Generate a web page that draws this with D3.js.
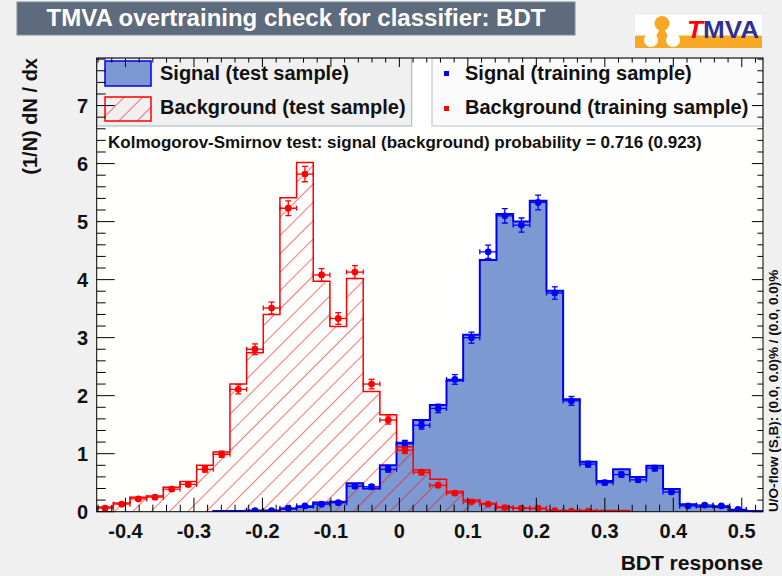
<!DOCTYPE html>
<html>
<head>
<meta charset="utf-8">
<script src="https://cdn.jsdelivr.net/npm/d3@7"></script>
<style>
  body { margin: 0; background: #f0f0f0; }
  svg { display: block; font-family: "Liberation Sans", Arial, sans-serif; font-weight: bold; }
</style>
</head>
<body>
<div id="graph-display"></div>
<script>
// binning of the BDT response
const X_MIN = -0.442;
const X_MAX = 0.531;
const N_BINS = 40;

// normalised histograms, one value per bin
const sigTest = [0, 0, 0, 0, 0, 0, 0, 0.01, 0.01, 0.02,
    0.02, 0.05, 0.08, 0.16, 0.17, 0.49, 0.40, 0.80, 1.19, 1.58,
    1.84, 2.26, 3.05, 4.34, 5.13, 5.00, 5.36, 3.81, 1.94, 0.86,
    0.53, 0.73, 0.60, 0.79, 0.39, 0.13, 0.09, 0.08, 0.02, 0.01];
const sigTrain = [0, 0, 0, 0, 0, 0, 0, 0, 0, 0.02,
    0.02, 0.06, 0.10, 0.13, 0.155, 0.44, 0.43, 0.73, 1.17, 1.49,
    1.78, 2.28, 3.00, 4.48, 5.10, 4.94, 5.33, 3.77, 1.91, 0.82,
    0.50, 0.64, 0.55, 0.75, 0.34, 0.10, 0.115, 0.10, 0.04, 0];
const bkgTest = [0.08, 0.15, 0.25, 0.27, 0.42, 0.52, 0.80, 1.03, 2.20, 2.74,
    3.40, 5.41, 6.02, 3.97, 3.19, 4.02, 2.07, 1.67, 1.12, 0.72,
    0.56, 0.35, 0.20, 0.14, 0.08, 0.06, 0.05, 0.02, 0.02, 0.02,
    0.02, 0.02, 0, 0, 0, 0, 0, 0, 0, 0];
const bkgTrain = [0.06, 0.13, 0.22, 0.25, 0.39, 0.47, 0.73, 0.99, 2.11, 2.80,
    3.51, 5.23, 5.82, 4.08, 3.33, 4.13, 2.20, 1.58, 1.06, 0.68,
    0.455, 0.32, 0.17, 0.13, 0.07, 0.06, 0.06, 0.02, 0.01, 0.01,
    0, 0, 0, 0, 0, 0, 0, 0, 0, 0];

const xTicks = [-0.4, -0.3, -0.2, -0.1, 0, 0.1, 0.2, 0.3, 0.4, 0.5];
const yTicks = [0, 1, 2, 3, 4, 5, 6, 7];

const titleText = 'TMVA overtraining check for classifier: BDT';
const ksText = 'Kolmogorov-Smirnov test: signal (background) probability = 0.716 (0.923)';
const flowText = 'U/O-flow (S,B): (0.0, 0.0)% / (0.0, 0.0)%';

const width = 782;
const height = 576;
const frame = { left: 96.7, right: 763, top: 58, bottom: 511.7 };

const SIG_LINE = '#0000ee';
const SIG_FILL = '#7d99d1';
const BKG_LINE = '#ff0000';

const x = d3.scaleLinear().domain([X_MIN, X_MAX]).range([frame.left, frame.right]);
const y = d3.scaleLinear().domain([0, 7.82]).range([frame.bottom, frame.top]);

const binWidth = (X_MAX - X_MIN) / N_BINS;
const edge = (i) => x(X_MIN + i * binWidth);

const svg = d3.select('#graph-display')
    .append('svg')
    .attr('width', width)
    .attr('height', height);

svg.append('rect')
    .attr('width', width)
    .attr('height', height)
    .attr('fill', '#f0f0f0');

const defs = svg.append('defs');
const hatch = defs.append('pattern')
    .attr('id', 'hatch')
    .attr('patternUnits', 'userSpaceOnUse')
    .attr('width', 13)
    .attr('height', 13)
    .attr('patternTransform', 'rotate(45)');
hatch.append('line')
    .attr('x1', 0).attr('y1', 0)
    .attr('x2', 0).attr('y2', 13)
    .attr('stroke', BKG_LINE)
    .attr('stroke-width', 1.1);

defs.append('clipPath')
    .attr('id', 'frame-clip')
    .append('rect')
    .attr('x', frame.left)
    .attr('y', frame.top)
    .attr('width', frame.right - frame.left)
    .attr('height', frame.bottom - frame.top);

// title box
svg.append('rect')
    .attr('x', 17).attr('y', 2)
    .attr('width', 558).attr('height', 33)
    .attr('fill', '#5d6b7d')
    .attr('stroke', '#7d8b9d')
    .attr('stroke-width', 1);
svg.append('text')
    .attr('x', 296).attr('y', 26)
    .attr('text-anchor', 'middle')
    .attr('fill', '#ffffff')
    .style('font-size', '24px')
    .text(titleText);

// TMVA logo
const logo = svg.append('g');
logo.append('rect').attr('x', 635).attr('y', 15).attr('width', 127).attr('height', 33).attr('fill', '#ffffff');
logo.append('rect').attr('x', 635).attr('y', 35.5).attr('width', 127).attr('height', 12.5).attr('fill', '#f9a825');
logo.append('path').attr('d', 'M655,38 L662,25 L669,38 Z').attr('fill', '#f9a825');
logo.append('circle').attr('cx', 662).attr('cy', 23.5).attr('r', 7.5).attr('fill', '#f9a825');
logo.append('circle').attr('cx', 651).attr('cy', 40).attr('r', 7).attr('fill', '#ffffff');
logo.append('circle').attr('cx', 673).attr('cy', 40).attr('r', 7).attr('fill', '#ffffff');
const logoText = logo.append('text')
    .attr('x', 687).attr('y', 38)
    .attr('textLength', 72)
    .attr('lengthAdjust', 'spacingAndGlyphs')
    .style('font-size', '23px');
logoText.append('tspan').attr('fill', '#ff0000').style('font-style', 'italic').text('T');
logoText.append('tspan').attr('fill', '#2e3192').text('MVA');

// plot frame
svg.append('rect')
    .attr('x', frame.left).attr('y', frame.top)
    .attr('width', frame.right - frame.left)
    .attr('height', frame.bottom - frame.top)
    .attr('fill', '#fffffd');

const stepPath = (values) => {
    let first = values.findIndex((v) => v > 0);
    let last = values.length - 1;
    while (last > first && values[last] <= 0) last--;
    let p = `M${edge(first)},${y(0)}`;
    for (let i = first; i <= last; i++) {
        p += `V${y(values[i])}H${edge(i + 1)}`;
    }
    return p + `V${y(0)}`;
};

const plot = svg.append('g').attr('clip-path', 'url(#frame-clip)');

plot.append('path')
    .attr('d', stepPath(sigTest) + 'Z')
    .attr('fill', SIG_FILL);
plot.append('path')
    .attr('d', stepPath(sigTest))
    .attr('fill', 'none')
    .attr('stroke', SIG_LINE)
    .attr('stroke-width', 2);

plot.append('path')
    .attr('d', stepPath(bkgTest) + 'Z')
    .attr('fill', 'url(#hatch)');
plot.append('path')
    .attr('d', stepPath(bkgTest))
    .attr('fill', 'none')
    .attr('stroke', BKG_LINE)
    .attr('stroke-width', 1.5);

const drawPoints = (values, color) => {
    const pts = values
        .map((v, i) => ({ v: v, i: i, err: 0.055 * Math.sqrt(v) }))
        .filter((d) => d.v > 0);
    const g = plot.append('g')
        .attr('stroke', color)
        .attr('stroke-width', 1.3);
    const items = g.selectAll('g')
        .data(pts)
        .enter()
        .append('g');
    items.append('line')
        .attr('x1', (d) => edge(d.i)).attr('x2', (d) => edge(d.i + 1))
        .attr('y1', (d) => y(d.v)).attr('y2', (d) => y(d.v));
    items.append('line')
        .attr('x1', (d) => edge(d.i)).attr('x2', (d) => edge(d.i))
        .attr('y1', (d) => y(d.v) - 2.5).attr('y2', (d) => y(d.v) + 2.5);
    items.append('line')
        .attr('x1', (d) => edge(d.i + 1)).attr('x2', (d) => edge(d.i + 1))
        .attr('y1', (d) => y(d.v) - 2.5).attr('y2', (d) => y(d.v) + 2.5);
    items.append('line')
        .attr('x1', (d) => (edge(d.i) + edge(d.i + 1)) / 2)
        .attr('x2', (d) => (edge(d.i) + edge(d.i + 1)) / 2)
        .attr('y1', (d) => y(d.v + d.err)).attr('y2', (d) => y(d.v - d.err));
    items.append('line')
        .attr('x1', (d) => (edge(d.i) + edge(d.i + 1)) / 2 - 3)
        .attr('x2', (d) => (edge(d.i) + edge(d.i + 1)) / 2 + 3)
        .attr('y1', (d) => y(d.v + d.err)).attr('y2', (d) => y(d.v + d.err));
    items.append('line')
        .attr('x1', (d) => (edge(d.i) + edge(d.i + 1)) / 2 - 3)
        .attr('x2', (d) => (edge(d.i) + edge(d.i + 1)) / 2 + 3)
        .attr('y1', (d) => y(d.v - d.err)).attr('y2', (d) => y(d.v - d.err));
    items.append('circle')
        .attr('cx', (d) => (edge(d.i) + edge(d.i + 1)) / 2)
        .attr('cy', (d) => y(d.v))
        .attr('r', 3.4)
        .attr('fill', color)
        .attr('stroke', 'none');
};

drawPoints(sigTrain, '#0000ff');
drawPoints(bkgTrain, '#ff0000');

// legends
svg.append('rect')
    .attr('x', 96.7).attr('y', 58)
    .attr('width', 315).attr('height', 68)
    .attr('fill', '#f0f0f0')
    .attr('stroke', '#a9b1c0')
    .attr('stroke-width', 1);
svg.append('rect')
    .attr('x', 105).attr('y', 61)
    .attr('width', 46).attr('height', 25)
    .attr('fill', SIG_FILL)
    .attr('stroke', SIG_LINE)
    .attr('stroke-width', 1.5);
svg.append('rect')
    .attr('x', 105).attr('y', 97)
    .attr('width', 46).attr('height', 24)
    .attr('fill', 'url(#hatch)')
    .attr('stroke', BKG_LINE)
    .attr('stroke-width', 1.5);
svg.append('text').attr('x', 160).attr('y', 80).style('font-size', '20px').attr('fill', '#111').text('Signal (test sample)');
svg.append('text').attr('x', 160).attr('y', 114).style('font-size', '20px').attr('fill', '#111').text('Background (test sample)');

svg.append('rect')
    .attr('x', 432).attr('y', 58)
    .attr('width', 331).attr('height', 68)
    .attr('fill', '#fbfbfb')
    .attr('stroke', '#b8c0cc')
    .attr('stroke-width', 1);
svg.append('rect').attr('x', 444).attr('y', 71).attr('width', 5).attr('height', 5).attr('fill', '#0000ff');
svg.append('rect').attr('x', 444).attr('y', 106).attr('width', 5).attr('height', 5).attr('fill', '#ff0000');
svg.append('text').attr('x', 465).attr('y', 80).style('font-size', '20px').attr('fill', '#111').text('Signal (training sample)');
svg.append('text').attr('x', 465).attr('y', 114).style('font-size', '20px').attr('fill', '#111').text('Background (training sample)');

svg.append('text')
    .attr('x', 108).attr('y', 148)
    .style('font-size', '17px')
    .attr('fill', '#111')
    .text(ksText);

// axes: ticks on all four sides, pointing inwards
const axes = svg.append('g').attr('stroke', '#000').attr('stroke-width', 1);
const xMinor = d3.range(-22, 27).map((i) => +(i * 0.02).toFixed(2))
    .filter((v) => v >= X_MIN && v <= X_MAX && !xTicks.includes(v));
const yMinor = d3.range(1, 40).map((i) => +(i * 0.2).toFixed(1))
    .filter((v) => v < 7.82 && !yTicks.includes(v));

const tickSet = (vals, len) => vals.map((v) => ({ v: v, len: len }));
const xAll = tickSet(xTicks, 14).concat(tickSet(xMinor, 7));
const yAll = tickSet(yTicks, 18).concat(tickSet(yMinor, 9));

axes.selectAll('.xb').data(xAll).enter().append('line')
    .attr('x1', (d) => x(d.v)).attr('x2', (d) => x(d.v))
    .attr('y1', frame.bottom).attr('y2', (d) => frame.bottom - d.len);
axes.selectAll('.xt').data(xAll).enter().append('line')
    .attr('x1', (d) => x(d.v)).attr('x2', (d) => x(d.v))
    .attr('y1', frame.top).attr('y2', (d) => frame.top + d.len * 0.65);
axes.selectAll('.yl').data(yAll).enter().append('line')
    .attr('y1', (d) => y(d.v)).attr('y2', (d) => y(d.v))
    .attr('x1', frame.left).attr('x2', (d) => frame.left + d.len);
axes.selectAll('.yr').data(yAll).enter().append('line')
    .attr('y1', (d) => y(d.v)).attr('y2', (d) => y(d.v))
    .attr('x1', frame.right).attr('x2', (d) => frame.right - d.len * 0.62);

svg.append('rect')
    .attr('x', frame.left).attr('y', frame.top)
    .attr('width', frame.right - frame.left)
    .attr('height', frame.bottom - frame.top)
    .attr('fill', 'none')
    .attr('stroke', '#000')
    .attr('stroke-width', 1);

svg.selectAll('.xlab').data(xTicks).enter().append('text')
    .attr('x', (d) => x(d))
    .attr('y', 538)
    .attr('text-anchor', 'middle')
    .style('font-size', '20px')
    .attr('fill', '#111')
    .text((d) => d === 0 ? '0' : d3.format('.1f')(d).replace('−', '-'));

svg.selectAll('.ylab').data(yTicks).enter().append('text')
    .attr('x', 88)
    .attr('y', (d) => y(d) + 7)
    .attr('text-anchor', 'end')
    .style('font-size', '20px')
    .attr('fill', '#111')
    .text((d) => d);

svg.append('text')
    .attr('x', 763).attr('y', 570)
    .attr('text-anchor', 'end')
    .style('font-size', '21px')
    .attr('fill', '#111')
    .text('BDT response');

svg.append('text')
    .attr('transform', 'translate(37, 58) rotate(-90)')
    .attr('text-anchor', 'end')
    .style('font-size', '20px')
    .attr('fill', '#111')
    .text('(1/N) dN / dx');

svg.append('text')
    .attr('transform', 'translate(778, 512) rotate(-90)')
    .attr('text-anchor', 'start')
    .style('font-size', '13.5px')
    .attr('fill', '#111')
    .text(flowText);
</script>
</body>
</html>
